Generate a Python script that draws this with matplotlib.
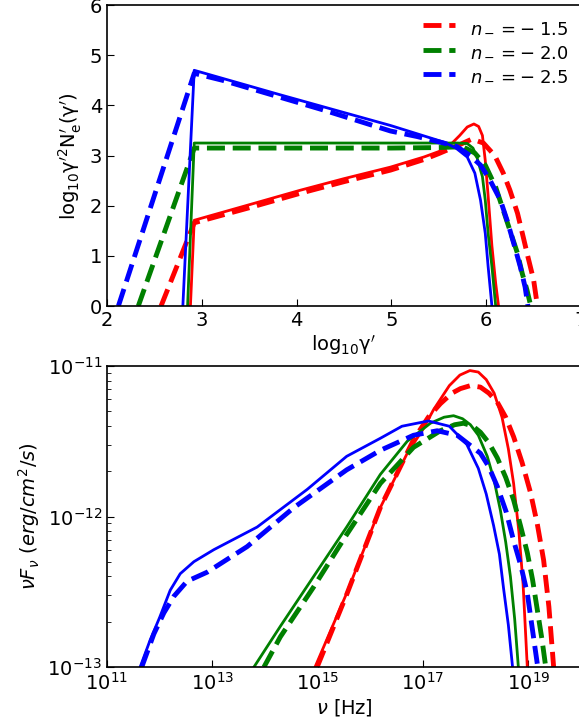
import numpy as np
import matplotlib
matplotlib.use("Agg")
import matplotlib.pyplot as plt

# top panel: log10 gamma' vs log10 gamma'^2 N'_e
red_solid_x = [2.88, 2.92, 3.5, 4.04, 4.5, 4.99, 5.34, 5.5, 5.62, 5.72, 5.80, 5.87, 5.92, 5.96, 5.99, 6.02, 6.06, 6.10, 6.13]
red_solid_y = [0.0, 1.71, 2.02, 2.31, 2.54, 2.77, 2.97, 3.08, 3.21, 3.40, 3.57, 3.63, 3.58, 3.40, 2.9, 2.2, 1.2, 0.45, 0.0]
red_dash_x = [2.57, 2.92, 3.5, 4.04, 4.5, 4.99, 5.34, 5.5, 5.7, 5.85, 5.97, 6.09, 6.18, 6.25, 6.33, 6.39, 6.44, 6.50, 6.54]
red_dash_y = [0.0, 1.66, 1.96, 2.25, 2.48, 2.71, 2.92, 3.04, 3.20, 3.33, 3.25, 3.0, 2.65, 2.31, 1.85, 1.38, 0.98, 0.52, 0.0]

green_solid_x = [2.85, 2.92, 3.5, 4.0, 4.5, 5.0, 5.5, 5.7, 5.8, 5.86, 5.9, 5.96, 5.99, 6.02, 6.06, 6.10]
green_solid_y = [0.0, 3.25, 3.25, 3.25, 3.25, 3.25, 3.25, 3.25, 3.24, 3.15, 2.98, 2.58, 2.11, 1.45, 0.79, 0.0]
green_dash_x = [2.33, 2.92, 3.5, 4.0, 4.5, 5.0, 5.5, 5.65, 5.76, 5.88, 5.99, 6.10, 6.18, 6.25, 6.33, 6.38, 6.43, 6.47]
green_dash_y = [0.0, 3.15, 3.15, 3.15, 3.15, 3.15, 3.16, 3.17, 3.17, 3.05, 2.81, 2.37, 1.91, 1.51, 1.05, 0.65, 0.32, 0.0]

blue_solid_x = [2.80, 2.92, 3.83, 4.99, 5.55, 5.68, 5.80, 5.88, 5.94, 5.99, 6.02, 6.06]
blue_solid_y = [0.0, 4.70, 4.21, 3.60, 3.27, 3.15, 2.97, 2.65, 2.11, 1.45, 0.79, 0.0]
blue_dash_x = [2.12, 2.92, 3.22, 4.28, 4.99, 5.27, 5.55, 5.69, 5.83, 5.94, 6.04, 6.15, 6.22, 6.29, 6.36, 6.41, 6.44]
blue_dash_y = [0.0, 4.64, 4.50, 3.91, 3.49, 3.38, 3.25, 3.18, 3.0, 2.81, 2.51, 2.11, 1.71, 1.25, 0.78, 0.38, 0.0]

# bottom panel: log10 nu [Hz] vs log10 nuF_nu [erg/cm^2/s]
sed_red_solid_x = [14.95, 15.55, 16.19, 16.70, 17.0, 17.2, 17.5, 17.7, 17.89, 18.05, 18.2, 18.35, 18.5, 18.62, 18.72, 18.82, 18.9, 18.98]
sed_red_solid_y = [-13.0, -12.51, -11.94, -11.58, -11.42, -11.29, -11.13, -11.06, -11.03, -11.04, -11.09, -11.18, -11.34, -11.55, -11.78, -12.1, -12.45, -13.0]
sed_red_dash_x = [14.99, 15.56, 16.19, 16.82, 17.1, 17.33, 17.55, 17.71, 17.9, 18.09, 18.25, 18.41, 18.57, 18.72, 18.88, 19.04, 19.17, 19.29, 19.39, 19.48]
sed_red_dash_y = [-13.0, -12.51, -11.94, -11.49, -11.34, -11.25, -11.18, -11.15, -11.13, -11.14, -11.18, -11.24, -11.34, -11.47, -11.64, -11.84, -12.05, -12.29, -12.6, -13.0]

sed_green_solid_x = [13.79, 14.29, 14.92, 15.55, 16.19, 16.70, 17.14, 17.4, 17.58, 17.75, 17.90, 18.05, 18.22, 18.35, 18.47, 18.57, 18.66, 18.74, 18.81]
sed_green_solid_y = [-13.0, -12.73, -12.40, -12.07, -11.72, -11.50, -11.38, -11.34, -11.33, -11.35, -11.39, -11.46, -11.60, -11.76, -11.96, -12.17, -12.40, -12.68, -13.0]
sed_green_dash_x = [13.98, 14.29, 14.92, 15.55, 16.19, 16.82, 17.33, 17.6, 17.77, 17.95, 18.09, 18.25, 18.41, 18.57, 18.72, 18.85, 18.98, 19.08, 19.17, 19.26, 19.33]
sed_green_dash_y = [-13.0, -12.80, -12.47, -12.12, -11.78, -11.54, -11.43, -11.39, -11.38, -11.40, -11.44, -11.51, -11.61, -11.74, -11.89, -12.06, -12.24, -12.42, -12.62, -12.82, -13.0]

sed_blue_solid_x = [11.63, 11.82, 12.0, 12.2, 12.39, 12.65, 13.03, 13.85, 14.80, 15.55, 16.19, 16.6, 17.1, 17.5, 17.83, 18.05, 18.2, 18.34, 18.45, 18.53, 18.62, 18.70]
sed_blue_solid_y = [-13.0, -12.82, -12.67, -12.49, -12.38, -12.30, -12.22, -12.07, -11.82, -11.60, -11.48, -11.40, -11.365, -11.40, -11.52, -11.68, -11.85, -12.06, -12.25, -12.48, -12.72, -13.0]
sed_blue_dash_x = [11.66, 11.89, 12.08, 12.27, 12.52, 12.90, 13.66, 14.55, 15.55, 16.19, 16.82, 17.27, 17.65, 18.09, 18.25, 18.41, 18.58, 18.72, 18.86, 18.98, 19.17]
sed_blue_dash_y = [-13.0, -12.78, -12.64, -12.53, -12.43, -12.37, -12.20, -11.94, -11.69, -11.56, -11.46, -11.43, -11.46, -11.58, -11.67, -11.80, -11.97, -12.16, -12.33, -12.51, -12.98]

labels = [r"$n_- = -\;1.5$", r"$n_- = -\;2.0$", r"$n_- = -\;2.5$"]
colors = ["r", "g", "b"]

plt.rcParams["font.size"] = 14
plt.rcParams["mathtext.fontset"] = "dejavusans"

fig = plt.figure(figsize=(5.79, 7.27), dpi=100)
ax1 = fig.add_axes([0.1848, 0.579, 0.8187, 0.414])
ax2 = fig.add_axes([0.1848, 0.0825, 0.8187, 0.414])

solid_lw = 2.0
dash_lw = 3.5

top = [(red_solid_x, red_solid_y, red_dash_x, red_dash_y),
       (green_solid_x, green_solid_y, green_dash_x, green_dash_y),
       (blue_solid_x, blue_solid_y, blue_dash_x, blue_dash_y)]
for i, (sx, sy, dx, dy) in enumerate(top):
    ax1.plot(dx, dy, "--", color=colors[i], lw=dash_lw, label=labels[i])
    ax1.plot(sx, sy, "-", color=colors[i], lw=solid_lw)

ax1.set_xlim(2, 7)
ax1.set_ylim(0, 6)
ax1.set_xticks([2, 3, 4, 5, 6, 7])
ax1.set_yticks([0, 1, 2, 3, 4, 5, 6])
ax1.set_xlabel(r"$\mathrm{log_{10}\gamma^{\prime}}$", labelpad=2)
ax1.set_ylabel(r"$\mathrm{log_{10}\gamma^{\prime 2}N^{\prime}_e(\gamma^{\prime})}$")
ax1.legend(loc="upper right", frameon=False, handlelength=1.8,
           fontsize=13, borderaxespad=0.3, labelspacing=0.35)

bottom = [(sed_red_solid_x, sed_red_solid_y, sed_red_dash_x, sed_red_dash_y),
          (sed_green_solid_x, sed_green_solid_y, sed_green_dash_x, sed_green_dash_y),
          (sed_blue_solid_x, sed_blue_solid_y, sed_blue_dash_x, sed_blue_dash_y)]
for i, (sx, sy, dx, dy) in enumerate(bottom):
    ax2.plot(10 ** np.array(sx), 10 ** np.array(sy), "-", color=colors[i], lw=solid_lw)
    ax2.plot(10 ** np.array(dx), 10 ** np.array(dy), "--", color=colors[i], lw=dash_lw)

ax2.set_xscale("log")
ax2.set_yscale("log")
ax2.set_xlim(1e11, 1e20)
ax2.set_ylim(1e-13, 1e-11)
ax2.set_xticks([1e11, 1e13, 1e15, 1e17, 1e19])
ax2.xaxis.set_minor_locator(matplotlib.ticker.NullLocator())
ax2.set_xlabel(r"$\nu$ [Hz]", labelpad=2)
ax2.set_ylabel(r"$\nu F_{\nu}\ (erg/cm^2/s)$")

for ax in (ax1, ax2):
    ax.tick_params(which="both", direction="in", top=False, right=False)
    ax.tick_params(which="major", length=5, labelsize=14)
    ax.tick_params(which="minor", length=3)
    for sp in ax.spines.values():
        sp.set_linewidth(1.2)

fig.savefig("out.png", dpi=100)
